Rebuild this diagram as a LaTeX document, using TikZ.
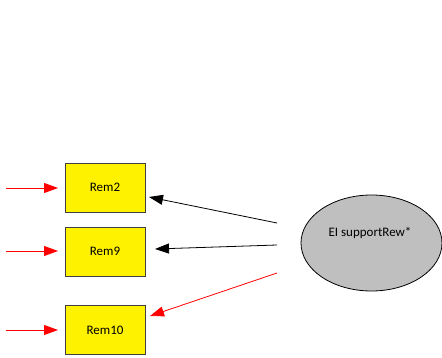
\documentclass[tikz,border=0pt]{standalone}
\usepackage{fontspec}
\setmainfont{Carlito}
\usetikzlibrary{arrows.meta,shapes.geometric}
\begin{document}
\begin{tikzpicture}[x=1pt,y=-1pt,
  remvar/.style={draw=black!75,fill=yellow,line width=0.8pt,minimum width=80pt,minimum height=49pt,inner sep=0pt,font=\fontsize{13}{15}\selectfont},
  latent/.style={draw=black,fill=black!25,line width=0.8pt,ellipse,minimum width=141pt,minimum height=96pt,inner sep=0pt},
  lbl/.style={font=\fontsize{13}{15}\selectfont,inner sep=1pt},
  tip/.style={-{Triangle[length=14pt,width=10pt]},line width=0.8pt},
  redarr/.style={tip,red},
  blackarr/.style={tip,black}]
\useasboundingbox (0,0) rectangle (442,358);
\node[remvar] (rem2) at (105,187.5) {Rem2};
\node[remvar] (rem9) at (105,251.5) {Rem9};
\node[remvar] (rem10) at (105,330) {Rem10};
\node[latent] (eiell) at (371.5,243) {};
\node[lbl] (ei) at (370,233) {EI supportRew*};
\coordinate (in2) at (6,188);
\coordinate (in9) at (6,251);
\coordinate (in10) at (6,330);
\coordinate (t2) at (58,188);
\coordinate (t9) at (58,251);
\coordinate (t10) at (58,330);
\draw[redarr] (in2) -- (t2);
\draw[redarr] (in9) -- (t9);
\draw[redarr] (in10) -- (t10);
\coordinate (s2) at (277,223);
\coordinate (s9) at (277,245);
\coordinate (s10) at (277,273);
\coordinate (e2) at (149,197);
\coordinate (e9) at (155,249);
\coordinate (e10) at (150,316);
\draw[blackarr] (s2) -- (e2);
\draw[blackarr] (s9) -- (e9);
\draw[redarr] (s10) -- (e10);
\end{tikzpicture}
\end{document}
